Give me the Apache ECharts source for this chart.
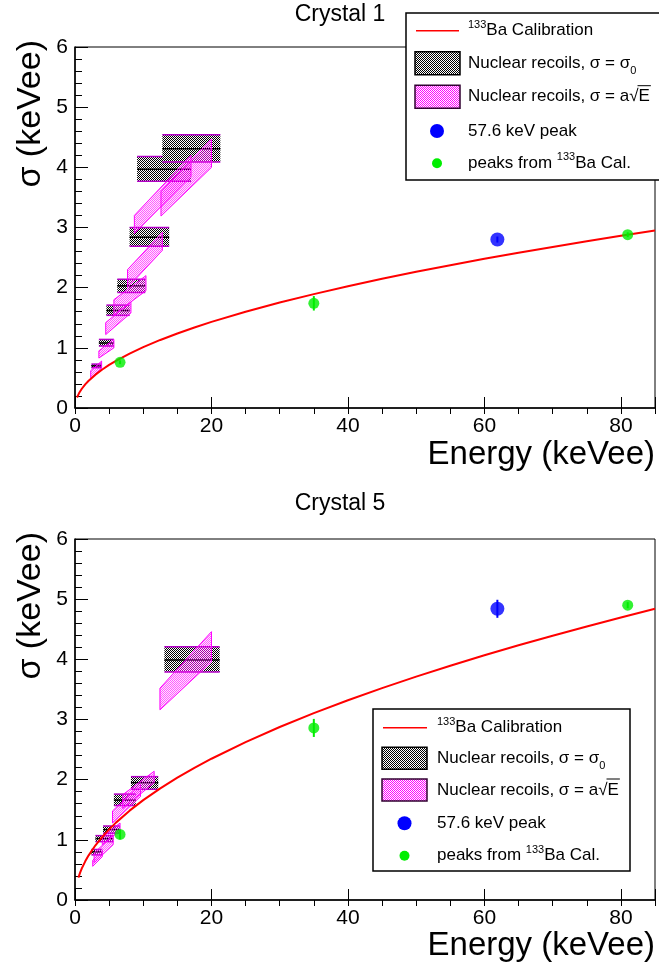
<!DOCTYPE html>
<html><head><meta charset="utf-8">
<script src="https://cdn.jsdelivr.net/npm/echarts@6/dist/echarts.min.js"></script>
<style>html,body{margin:0;padding:0;background:#fff}#c{width:659px;height:967px}</style>
</head><body><div id="c"></div>
<script>
// ---------------- data ----------------
const xTicks = [0, 20, 40, 60, 80];
const yTicks = [0, 1, 2, 3, 4, 5, 6];
const xMax = 85;
const panelTitles = ['Crystal 1', 'Crystal 5'];
const xTitle = 'Energy (keVee)';
const yTitle = 'σ (keVee)';

// nuclear recoil boxes, sigma = sigma0 : [Elo, Ehi, sLo, sHi, sMid]
const boxes1 = [[2.4,3.9,0.67,0.73,0.70],[3.5,5.7,1.03,1.14,1.08],[4.6,8.0,1.54,1.71,1.62],
  [6.2,10.3,1.92,2.14,2.03],[8.0,13.8,2.69,3.00,2.84],[9.1,17.0,3.77,4.18,3.97],[12.8,21.3,4.09,4.54,4.31]];
const boxes5 = [[2.4,4.0,0.75,0.84,0.80],[3.0,5.6,0.97,1.07,1.02],[4.1,6.6,1.11,1.23,1.17],
  [5.7,8.9,1.57,1.76,1.66],[8.2,12.2,1.84,2.05,1.95],[13.1,21.2,3.79,4.21,3.99]];
// nuclear recoil bands, sigma = a sqrt(E) : [Elo, Ehi, lowerAtElo, lowerAtEhi, upperAtElo, upperAtEhi]
const bands1 = [[2.3,3.9,0.50,0.66,0.62,0.78],[3.5,5.7,0.83,1.00,0.95,1.14],[4.5,8.2,1.22,1.58,1.42,1.76],
  [5.7,10.4,1.55,1.95,1.80,2.20],[7.7,12.8,2.00,2.62,2.30,2.92],[8.7,17.0,2.90,3.85,3.20,4.20],[12.6,20.0,3.19,4.00,3.60,4.47]];
const bands5 = [[2.6,4.0,0.56,0.72,0.66,0.82],[2.8,5.6,0.62,0.92,0.78,1.08],[4.0,6.6,0.92,1.15,1.05,1.28],
  [5.5,9.6,1.28,1.72,1.48,1.92],[7.0,11.6,1.52,1.95,1.75,2.14],[12.45,20.0,3.16,3.96,3.52,4.46]];
// 133Ba calibration curves
const cal1 = [[0.3,0.175],[0.6,0.248],[1,0.32],[1.5,0.392],[2,0.453],[3,0.554],[4,0.64],[5,0.716],[6,0.784],
  [8,0.905],[10,1.012],[12.5,1.131],[15,1.239],[17.5,1.339],[20,1.431],[25,1.6],[30,1.753],[35,1.893],
  [40,2.024],[45,2.147],[50,2.263],[55,2.373],[60,2.479],[65,2.58],[70,2.677],[75,2.771],[80,2.862],[85,2.95]];
const cal5 = [[0.5,0.371],[0.75,0.455],[1,0.525],[1.5,0.643],[2,0.742],[3,0.909],[4,1.05],[5,1.174],[6,1.286],
  [8,1.485],[10,1.66],[12.5,1.856],[15,2.033],[17.5,2.196],[20,2.348],[25,2.625],[30,2.876],[35,3.106],
  [40,3.32],[45,3.522],[50,3.712],[55,3.894],[60,4.067],[65,4.233],[70,4.392],[75,4.547],[80,4.696],[85,4.84]];
// peaks from 133Ba calibration : [E, sigma, err]
const baPeaks1 = [[6.6,0.76,0.03],[35,1.74,0.12],[81,2.88,0.04]];
const baPeaks5 = [[6.6,1.09,0.08],[35,2.86,0.15],[81,4.90,0.05]];
// 57.6 keV peak : [E, sigma, err]
const peak1 = [[61.9,2.80,0.05]];
const peak5 = [[61.9,4.84,0.15]];
const legendLabels = ['Ba Calibration', 'Nuclear recoils, σ = σ', 'Nuclear recoils, σ = a', '57.6 keV peak', 'peaks from '];

// ---------------- helpers ----------------
const FONT = '"Liberation Sans", Arial, Helvetica, sans-serif';
function makePat(c1, c2) {
  const cv = document.createElement('canvas'); cv.width = 2; cv.height = 2;
  const g = cv.getContext('2d');
  g.fillStyle = c2; g.fillRect(0, 0, 2, 2);
  g.fillStyle = c1; g.fillRect(0, 0, 1, 1); g.fillRect(1, 1, 1, 1);
  return cv;
}
const grayPat = { image: makePat('#000000', '#ffffff'), repeat: 'repeat' };
const pinkPat = { image: makePat('rgba(255,0,255,0.6)', 'rgba(255,0,255,0.1)'), repeat: 'repeat' };
const pinkSw = { image: makePat('#ff00ff', '#ffffff'), repeat: 'repeat' };
const mctx = document.createElement('canvas').getContext('2d');
function tw(t, fs) { mctx.font = fs + 'px ' + FONT; return mctx.measureText(t).width; }

function renderBox(params, api) {
  const a = api.coord([api.value(0), api.value(3)]);
  const b = api.coord([api.value(1), api.value(2)]);
  const m = api.coord([api.value(0), api.value(4)]);
  const x = a[0], y = a[1], w = b[0] - a[0], h = b[1] - a[1];
  return { type: 'group', children: [
    { type: 'rect', shape: { x, y, width: w, height: h }, style: { fill: grayPat } },
    { type: 'line', shape: { x1: x, y1: y, x2: x + w, y2: y }, style: { stroke: '#b400c8', lineWidth: 1.5 } },
    { type: 'line', shape: { x1: x, y1: y + h, x2: x + w, y2: y + h }, style: { stroke: '#b400c8', lineWidth: 1.5 } },
    { type: 'line', shape: { x1: x, y1: m[1], x2: x + w, y2: m[1] }, style: { stroke: '#000', lineWidth: 1.5 } }
  ]};
}
function renderBand(params, api) {
  const e0 = api.value(0), e1 = api.value(1);
  const pts = [api.coord([e0, api.value(2)]), api.coord([e1, api.value(3)]),
               api.coord([e1, api.value(5)]), api.coord([e0, api.value(4)])];
  return { type: 'polygon', shape: { points: pts },
           style: { fill: pinkPat, stroke: '#ff00ff', lineWidth: 1 } };
}
function renderErr(params, api) {
  const x = api.value(0), y = api.value(1), e = api.value(2);
  const p0 = api.coord([x, y - e]), p1 = api.coord([x, y + e]);
  return { type: 'line', shape: { x1: p0[0], y1: p0[1], x2: p1[0], y2: p1[1] },
           style: { stroke: api.visual('color'), lineWidth: 2 } };
}

// ---------------- layout ----------------
const grids = [
  { left: 75, top: 47, width: 580, height: 361 },
  { left: 75, top: 539, width: 580, height: 361 }
];
const xAxes = [], yAxes = [], series = [];
const sets = [
  { boxes: boxes1, bands: bands1, cal: cal1, ba: baPeaks1, pk: peak1 },
  { boxes: boxes5, bands: bands5, cal: cal5, ba: baPeaks5, pk: peak5 }
];
grids.forEach((g, i) => {
  g.show = true; g.borderColor = '#000'; g.borderWidth = 1; g.backgroundColor = '#fff';
  xAxes.push({ gridIndex: i, type: 'value', min: xTicks[0], max: xMax, interval: xTicks[1] - xTicks[0],
    axisLine: { show: true, onZero: false, lineStyle: { color: '#000', width: 1.5 } },
    axisTick: { show: true, inside: true, length: 11, lineStyle: { color: '#000', width: 1 } },
    axisLabel: { show: true, margin: 8, fontSize: 21, color: '#000', fontFamily: FONT,
      formatter: v => (xTicks.indexOf(v) >= 0 ? String(v) : '') },
    splitLine: { show: false } });
  xAxes.push({ gridIndex: i, type: 'value', min: xTicks[0], max: xMax, interval: 5,
    axisLine: { show: false }, axisLabel: { show: false }, splitLine: { show: false },
    axisTick: { show: true, inside: true, length: 6, lineStyle: { color: '#000', width: 1 } } });
  yAxes.push({ gridIndex: i, type: 'value', min: yTicks[0], max: yTicks[yTicks.length - 1],
    interval: yTicks[1] - yTicks[0],
    axisLine: { show: true, onZero: false, lineStyle: { color: '#000', width: 1.5 } },
    axisTick: { show: true, inside: true, length: 13, lineStyle: { color: '#000', width: 1 } },
    minorTick: { show: true, splitNumber: 5, length: 7, lineStyle: { color: '#000', width: 1 } },
    axisLabel: { show: true, margin: 7, fontSize: 21, color: '#000', fontFamily: FONT },
    splitLine: { show: false } });
  const s = sets[i];
  const xi = i * 2, yi = i;
  series.push({ type: 'custom', xAxisIndex: xi, yAxisIndex: yi, data: s.boxes, renderItem: renderBox,
    encode: { x: [0, 1], y: [2, 3, 4] }, z: 2, silent: true, animation: false });
  series.push({ type: 'custom', xAxisIndex: xi, yAxisIndex: yi, data: s.bands, renderItem: renderBand,
    encode: { x: [0, 1], y: [2, 3, 4, 5] }, z: 3, silent: true, animation: false });
  series.push({ type: 'line', xAxisIndex: xi, yAxisIndex: yi, data: s.cal, smooth: false,
    showSymbol: false, lineStyle: { color: '#ff0000', width: 2 }, z: 4, silent: true, animation: false });
  series.push({ type: 'custom', xAxisIndex: xi, yAxisIndex: yi, data: s.ba, renderItem: renderErr,
    itemStyle: { color: '#00ee00' }, encode: { x: 0, y: 1 }, z: 5, silent: true, animation: false });
  series.push({ type: 'custom', xAxisIndex: xi, yAxisIndex: yi, data: s.pk, renderItem: renderErr,
    itemStyle: { color: '#0000ff' }, encode: { x: 0, y: 1 }, z: 5, silent: true, animation: false });
  series.push({ type: 'scatter', xAxisIndex: xi, yAxisIndex: yi, data: s.ba.map(p => [p[0], p[1]]),
    symbol: 'circle', symbolSize: 11, itemStyle: { color: '#00ee00' }, z: 6, silent: true, animation: false });
  series.push({ type: 'scatter', xAxisIndex: xi, yAxisIndex: yi, data: s.pk.map(p => [p[0], p[1]]),
    symbol: 'circle', symbolSize: 14, itemStyle: { color: '#0000ff' }, z: 6, silent: true, animation: false });
});

// ---------------- text / legend graphics ----------------
const graphic = [];
function run(x, yMid, parts) {
  let cx = x;
  parts.forEach(p => {
    graphic.push({ type: 'text', x: cx, y: yMid + (p.dy || 0), z: 100, silent: true,
      style: { text: p.t, font: p.fs + 'px ' + FONT, fill: '#000', align: 'left', verticalAlign: 'middle' } });
    cx += tw(p.t, p.fs);
  });
  return cx;
}
const panelTitleY = [15, 504];
const axisTitleY = [455, 946];
grids.forEach((g, i) => {
  graphic.push({ type: 'text', x: 340, y: panelTitleY[i], z: 100, silent: true,
    style: { text: panelTitles[i], font: '23px ' + FONT, fill: '#000', align: 'center', verticalAlign: 'middle' } });
  graphic.push({ type: 'text', x: 655, y: axisTitleY[i], z: 100, silent: true,
    style: { text: xTitle, font: '33px ' + FONT, fill: '#000', align: 'right', verticalAlign: 'middle' } });
  graphic.push({ type: 'text', x: 31, y: g.top - 7, rotation: Math.PI / 2, z: 100, silent: true,
    style: { text: yTitle, font: '34px ' + FONT, fill: '#000', align: 'right', verticalAlign: 'middle' } });
});
const legends = [
  { x: 406, y: 13, w: 262, h: 167, rows: [30.7, 63.3, 96.7, 131, 163.3], sym: 437, l0: 416, l1: 459, s0: 415, s1: 460, sh: 23, tx: 468 },
  { x: 373, y: 709, w: 257, h: 162, rows: [727.7, 758.3, 790, 823.3, 855.7], sym: 404.5, l0: 383, l1: 427, s0: 382, s1: 427, sh: 22, tx: 437 }
];
legends.forEach(L => {
  graphic.push({ type: 'rect', z: 95, silent: true, shape: { x: L.x, y: L.y, width: L.w, height: L.h },
    style: { fill: '#fff', stroke: '#000', lineWidth: 1.5 } });
  const r = L.rows;
  graphic.push({ type: 'line', z: 100, silent: true, shape: { x1: L.l0, y1: r[0], x2: L.l1, y2: r[0] },
    style: { stroke: '#ff0000', lineWidth: 1.5 } });
  graphic.push({ type: 'rect', z: 100, silent: true, shape: { x: L.s0, y: r[1] - L.sh / 2, width: L.s1 - L.s0, height: L.sh },
    style: { fill: grayPat, stroke: '#000', lineWidth: 1.5 } });
  graphic.push({ type: 'rect', z: 100, silent: true, shape: { x: L.s0, y: r[2] - L.sh / 2, width: L.s1 - L.s0, height: L.sh },
    style: { fill: pinkSw, stroke: '#300030', lineWidth: 1.5 } });
  graphic.push({ type: 'circle', z: 100, silent: true, shape: { cx: L.sym, cy: r[3], r: 7 }, style: { fill: '#0000ff' } });
  graphic.push({ type: 'circle', z: 100, silent: true, shape: { cx: L.sym, cy: r[4], r: 5 }, style: { fill: '#00ee00' } });
  run(L.tx, r[0], [{ t: '133', fs: 11, dy: -6 }, { t: legendLabels[0], fs: 17 }]);
  run(L.tx, r[1], [{ t: legendLabels[1], fs: 17 }, { t: '0', fs: 11, dy: 8 }]);
  const xs = run(L.tx, r[2], [{ t: legendLabels[2], fs: 17 }]);
  const xe = run(xs, r[2], [{ t: '√', fs: 17 }]);
  const xe2 = run(xe, r[2], [{ t: 'E', fs: 17 }]);
  graphic.push({ type: 'line', z: 100, silent: true, shape: { x1: xe - 1, y1: r[2] - 11, x2: xe2 + 1, y2: r[2] - 11 },
    style: { stroke: '#000', lineWidth: 1 } });
  run(L.tx, r[3], [{ t: legendLabels[3], fs: 17 }]);
  run(L.tx, r[4], [{ t: legendLabels[4], fs: 17 }, { t: '133', fs: 11, dy: -6 }, { t: 'Ba Cal.', fs: 17 }]);
});

const chart = echarts.init(document.getElementById('c'), null, { renderer: 'canvas' });
chart.setOption({
  backgroundColor: '#fff',
  animation: false,
  grid: grids,
  xAxis: xAxes,
  yAxis: yAxes,
  series: series,
  graphic: graphic
});
</script></body></html>
